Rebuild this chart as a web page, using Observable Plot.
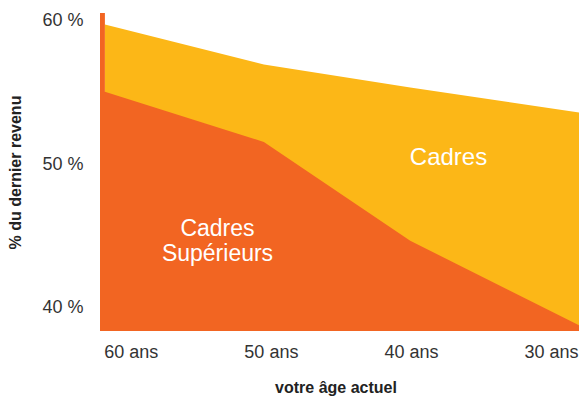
<!DOCTYPE html>
<html>
<head>
<meta charset="utf-8">
<script src="https://cdn.jsdelivr.net/npm/d3@7"></script>
<script src="https://cdn.jsdelivr.net/npm/@observablehq/plot@0.6"></script>
<style>
  body { margin: 0; background: #fff; }
  #chart svg { display: block; }
</style>
</head>
<body>
<div id="chart"></div>
<script>
// Axis ticks
const ageTicks = [60, 50, 40, 30];
const pctTicks = [40, 50, 60];

// Cadres supérieurs (orange), starting with the narrow bar at the left edge
const superieursAge = [62.2, 61.85, 61.85, 50.5, 40.05, 28.0];
const superieursPct = [60.5, 60.5, 55.0, 51.5, 44.6, 38.7];

// Cadres (yellow)
const cadresAge = [61.85, 50.5, 40.05, 28.0];
const cadresPct = [59.7, 56.9, 55.3, 53.55];

// Series names and axis titles
const seriesLabels = ["Cadres", "Cadres\nSupérieurs"];
const xTitle = "votre âge actuel";
const yTitle = "% du dernier revenu";

// Value axis extent; areas are filled down to its floor
const pctFloor = 38.3;
const pctCeil = 60.5;

const orange = "#F26522";
const yellow = "#FCB717";

const superieurs = superieursAge.map((age, i) => ({age, pct: superieursPct[i]}));
const cadres = cadresAge.map((age, i) => ({age, pct: cadresPct[i]}));

const chart = Plot.plot({
  width: 580,
  height: 398,
  marginLeft: 100,
  marginRight: 1,
  marginTop: 13,
  marginBottom: 67,
  style: {fontFamily: "'Liberation Sans', Arial, sans-serif", fontSize: "18px", color: "#333", background: "#fff"},
  x: {domain: [62.2, 28.0]},
  y: {domain: [pctFloor, pctCeil]},
  marks: [
    Plot.areaY(cadres, {x: "age", y1: () => pctFloor, y2: "pct", fill: yellow}),
    Plot.areaY(superieurs, {x: "age", y1: () => pctFloor, y2: "pct", fill: orange}),
    Plot.axisX(ageTicks, {tickSize: 0, tickPadding: 14, tickFormat: d => `${d} ans`, label: null}),
    Plot.axisY(pctTicks, {tickSize: 0, tickPadding: 17, tickFormat: d => `${d} %`, label: null}),
    Plot.text([seriesLabels[0]], {frameAnchor: "top-left", dx: 348, dy: 144, textAnchor: "middle", lineAnchor: "middle", fill: "#fff", fontSize: 24}),
    Plot.text([seriesLabels[1]], {frameAnchor: "top-left", dx: 117, dy: 227, textAnchor: "middle", lineAnchor: "middle", lineHeight: 1.08, fill: "#fff", fontSize: 23}),
    Plot.text([xTitle], {frameAnchor: "bottom", dx: -4, dy: 56, textAnchor: "middle", lineAnchor: "middle", fontWeight: "bold", fontSize: 16, fill: "#222"}),
    Plot.text([yTitle], {frameAnchor: "left", dx: -85, rotate: -90, textAnchor: "middle", lineAnchor: "middle", fontWeight: "bold", fontSize: 16, fill: "#222"})
  ]
});

document.getElementById("chart").append(chart);
</script>
</body>
</html>
